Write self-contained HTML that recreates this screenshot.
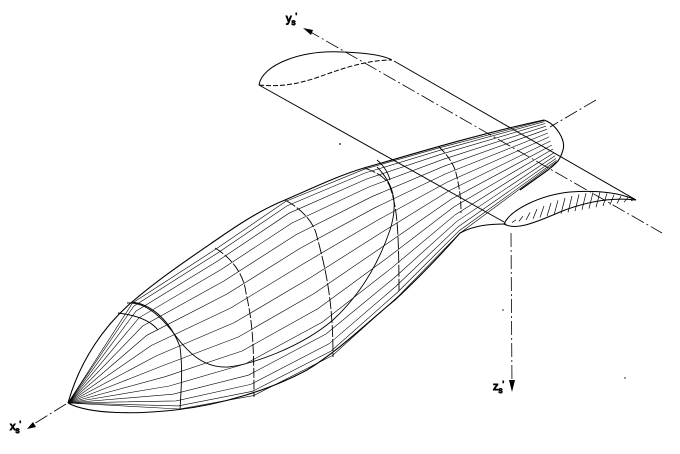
<!DOCTYPE html>
<html><head><meta charset="utf-8">
<style>
html,body{margin:0;padding:0;background:#fff;}
svg{display:block;}
text{font-family:"Liberation Sans",sans-serif;font-size:11px;fill:#000;}
</style></head>
<body>
<svg id="s" width="680" height="454" viewBox="0 0 680 454" xmlns="http://www.w3.org/2000/svg" fill="none" stroke="#000">
<!-- axes -->
<g stroke-width="0.8" stroke-dasharray="14,3,2,3">
<line x1="307" y1="30" x2="662" y2="233"/>
<line x1="596" y1="100" x2="550" y2="127"/>
<line x1="66" y1="404" x2="29" y2="427"/>
<line x1="511" y1="233" x2="512" y2="388"/>
</g>
<polygon points="303,28 313,30 311,35" fill="#000" stroke="none"/>
<polygon points="27,429 33,422 36,427" fill="#000" stroke="none"/>
<polygon points="509,380 515,380 512,392" fill="#000" stroke="none"/>
<text x="286" y="22">y<tspan font-size="8" dy="3">s</tspan><tspan dy="-6" font-size="8">'</tspan></text>
<text x="10" y="430">x<tspan font-size="8" dy="3">s</tspan><tspan dy="-6" font-size="8">'</tspan></text>
<text x="493" y="390">z<tspan font-size="8" dy="3">s</tspan><tspan dy="-6" font-size="8">'</tspan></text>

<!-- wing -->
<g stroke-width="1">
<path d="M259,85 C262,65 300,50 342,52 C370,53 385,56 392,60"/>
<path d="M259,85 C290,88 310,80 330,73 C355,64 375,60 392,60" stroke-dasharray="5,2"/>
<line x1="259" y1="85" x2="504" y2="222"/>
<line x1="394" y1="61" x2="636" y2="200"/>
<path d="M504,224 C510,210 540,195 570,192 C600,190 620,193 636,200"/>
<path d="M504,224 C515,230 530,225 560,212 C585,202 610,197 636,200"/>
</g>
<g id="hatch" stroke-width="0.7"></g>

<!-- body outline -->
<g stroke-width="1.1">
<path d="M68,403 C80,360 105,325 132,302 C160,278 190,258 219,238 C245,220 265,208 285,200 C315,187 340,175 364,168 C400,158 470,136 544,120"/>
<path d="M68,403 C90,415 140,414 175,410 C220,405 270,390 307,370 C340,350 370,320 395,300 C425,272 445,250 460,233 C475,225 490,224 506,224"/>
<path d="M544,120 C556,124 566,140 563,150 C560,160 558,162 548,170 L520,190"/>
</g>
<g id="long" stroke-width="0.6"></g>
<!-- sections -->
<g stroke-width="0.9">
<path d="M132,302 C155,305 172,325 180,347 C183,370 181,390 180,410" />
<path d="M118,313 C135,315 150,320 158,330"/>
<path d="M215,248 C232,258 244,275 246,293 C252,320 254,340 254,397" stroke-dasharray="10,2"/>
<path d="M285,200 C300,208 312,220 316,233 C326,270 333,300 333,357" stroke-dasharray="12,2"/>
<path d="M364,168 C378,172 388,180 390,187 C396,205 399,220 399,293" stroke-dasharray="12,2"/>
<path d="M377,160 C383,165 388,172 390,180"/>
<path d="M439,147 C448,155 454,165 456,173 C460,190 461,200 461,213" stroke-dasharray="8,2"/>
<path d="M127,303 C145,302 160,315 175,335 C190,355 205,368 228,367 C250,365 300,348 333,320 C360,295 378,265 390,230 C398,205 395,185 377,167"/>
</g>
<circle cx="340" cy="144" r="0.9" fill="#000" stroke="none"/>
<circle cx="503" cy="310" r="0.7" fill="#000" stroke="none"/>
<circle cx="625" cy="378" r="0.7" fill="#000" stroke="none"/>
</svg>
<script>
(function(){
var NS="http://www.w3.org/2000/svg";
var top=[[68,403],[132,302],[215,248],[285,200],[364,168],[439,147],[544,120]];
var bot=[[68,403],[180,410],[254,397],[333,357],[399,297],[460,234],[557,162]];
var g=document.getElementById("long");
var N=16;
for(var k=1;k<N;k++){
 var s=(1-Math.cos(Math.PI*k/N))/2;
 var d="";
 for(var i=0;i<top.length;i++){
  var x=top[i][0]*(1-s)+bot[i][0]*s, y=top[i][1]*(1-s)+bot[i][1]*s;
  d+=(i?"L":"M")+x.toFixed(1)+","+y.toFixed(1);
 }
 var p=document.createElementNS(NS,"path");p.setAttribute("d",d);g.appendChild(p);
}
var h=document.getElementById("hatch");
for(var x=512;x<632;x+=7){
 var t=(x-504)/132;
 var yt=224-32*Math.sin(Math.PI*Math.min(t*1.4,1)/2)+ (t>0.7?8*(t-0.7)/0.3:0);
 var yb=224-24*t;
 var l=document.createElementNS(NS,"line");
 l.setAttribute("x1",x);l.setAttribute("y1",yb);l.setAttribute("x2",x+4);l.setAttribute("y2",Math.min(yt,yb));
 h.appendChild(l);
}
})();
</script>
</body></html>
